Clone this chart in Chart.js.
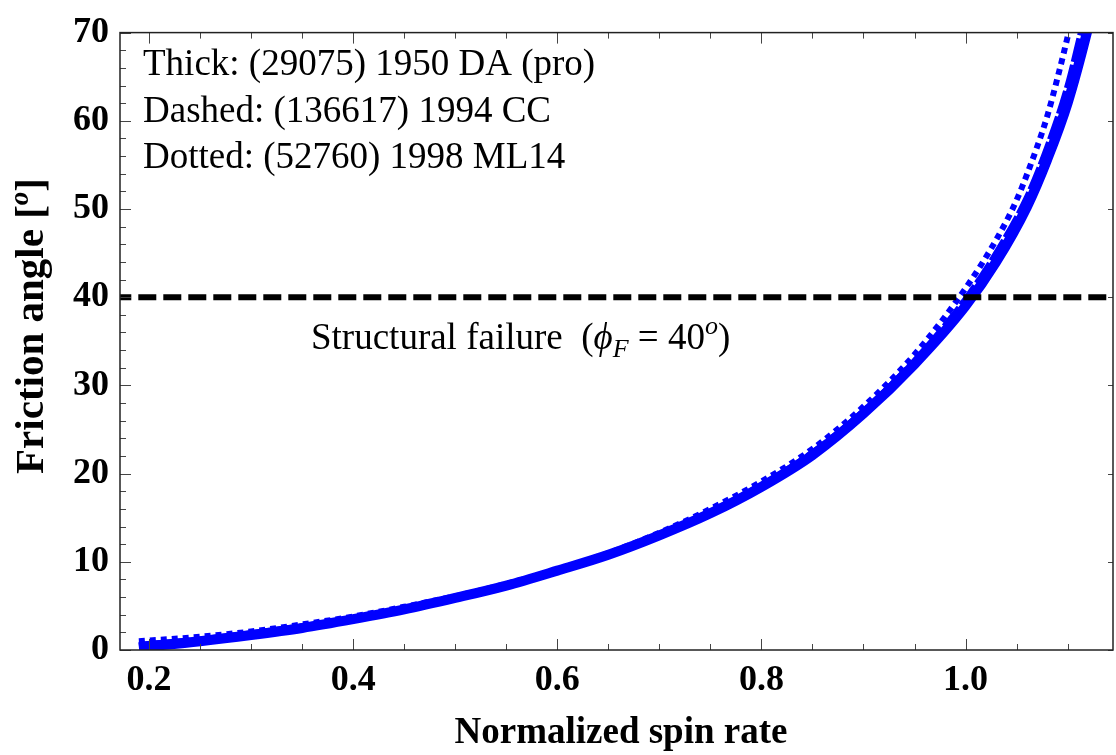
<!DOCTYPE html>
<html>
<head>
<meta charset="utf-8">
<script src="https://cdn.jsdelivr.net/npm/chart.js@4.4.0/dist/chart.umd.min.js"></script>
<style>
  html, body { margin: 0; padding: 0; background: #fff; }
  canvas { display: block; }
</style>
</head>
<body>
<canvas id="spinChart" width="1116" height="755"></canvas>
<script>
// axis ranges and ticks
var xMin = 0.1715, xMax = 1.1445;
var yMin = 0, yMax = 70;
var xTickValues = [0.2, 0.4, 0.6, 0.8, 1.0];
var xMinorStep = 0.05;
var yTickValues = [0, 10, 20, 30, 40, 50, 60, 70];
var yMinorStep = 2;

// thick: (29075) 1950 DA (pro)
var thickX = [0.19, 0.25, 0.3, 0.35, 0.4, 0.45, 0.5, 0.55, 0.6, 0.65, 0.7, 0.75, 0.8, 0.85, 0.9, 0.95, 1.0, 1.03, 1.06, 1.08, 1.1, 1.12, 1.125];
var thickY = [0.3, 1.0, 1.7, 2.5, 3.5, 4.6, 5.9, 7.3, 9.0, 10.8, 13.0, 15.5, 18.5, 22.1, 26.8, 32.4, 39.0, 44.0, 50.2, 55.6, 62.0, 70.5, 73.0];

// dashed: (136617) 1994 CC
var dashedX = [0.19, 0.25, 0.3, 0.35, 0.4, 0.45, 0.5, 0.55, 0.6, 0.65, 0.7, 0.75, 0.8, 0.85, 0.9, 0.95, 1.0, 1.03, 1.06, 1.08, 1.1, 1.115];
var dashedY = [0.6, 1.2, 1.9, 2.7, 3.6, 4.7, 6.0, 7.4, 9.0, 10.9, 13.1, 15.7, 18.7, 22.4, 27.1, 32.8, 39.8, 45.0, 51.3, 57.0, 64.0, 71.0];

// dotted: (52760) 1998 ML14
var dottedX = [0.19, 0.25, 0.3, 0.35, 0.4, 0.45, 0.5, 0.55, 0.6, 0.65, 0.7, 0.75, 0.8, 0.85, 0.9, 0.95, 1.0, 1.03, 1.05, 1.07, 1.08, 1.09, 1.1, 1.105];
var dottedY = [1.0, 1.5, 2.1, 2.9, 3.8, 4.9, 6.1, 7.5, 9.1, 11.0, 13.3, 16.0, 19.1, 22.8, 27.6, 33.5, 41.0, 46.5, 51.0, 57.0, 60.5, 64.8, 69.5, 72.0];

// structural failure level
var failureAngle = 40;

var legendLines = ["Thick: (29075) 1950 DA (pro)", "Dashed: (136617) 1994 CC", "Dotted: (52760) 1998 ML14"];

function toPoints(xs, ys) {
  return xs.map(function(x, i) { return { x: x, y: ys[i] }; });
}

var serif = "'Liberation Serif', 'Times New Roman', serif";
var blue = "#0000ff";

var framePlugin = {
  id: "framePlugin",
  afterDraw: function(chart) {
    var ctx = chart.ctx;
    var a = chart.chartArea;
    var xs = chart.scales.x, ys = chart.scales.y;
    ctx.save();

    // ticks, pointing inwards
    ctx.strokeStyle = "#444";
    ctx.lineWidth = 1;
    ctx.beginPath();
    var v, px, major;
    for (var k = Math.ceil(xMin / xMinorStep); k * xMinorStep <= xMax; k++) {
      v = k * xMinorStep;
      px = Math.round(xs.getPixelForValue(v)) + 0.5;
      major = xTickValues.some(function(t) { return Math.abs(t - v) < 1e-6; });
      var len = major ? 11 : 6;
      ctx.moveTo(px, a.bottom); ctx.lineTo(px, a.bottom - len);
      ctx.moveTo(px, a.top); ctx.lineTo(px, a.top + len);
    }
    for (var j = 0; j * yMinorStep <= yMax; j++) {
      v = j * yMinorStep;
      var py = Math.round(ys.getPixelForValue(v)) + 0.5;
      major = yTickValues.indexOf(v) >= 0;
      ctx.moveTo(a.left, py); ctx.lineTo(a.left + (major ? 11 : 6), py);
      if (major) { ctx.moveTo(a.right, py); ctx.lineTo(a.right - 5, py); }
    }
    ctx.stroke();

    // frame
    ctx.strokeStyle = "#222";
    ctx.lineWidth = 1.5;
    ctx.strokeRect(a.left, a.top, a.right - a.left, a.bottom - a.top);

    // legend text
    ctx.fillStyle = "#000";
    ctx.textBaseline = "alphabetic";
    ctx.textAlign = "left";
    ctx.font = "37px " + serif;
    legendLines.forEach(function(line, i) {
      ctx.fillText(line, 143, 75 + i * 46.5);
    });

    // failure label
    var fy = ys.getPixelForValue(failureAngle) + 52;
    var fx = 311;
    var parts = [
      { t: "Structural failure  (", f: "37px " + serif, dy: 0 },
      { t: "\u03d5", f: "italic 37px " + serif, dy: 0 },
      { t: "F", f: "italic 26px " + serif, dy: 8 },
      { t: " = 40", f: "37px " + serif, dy: 0 },
      { t: "o", f: "italic 26px " + serif, dy: -15 },
      { t: ")", f: "37px " + serif, dy: 0 }
    ];
    parts.forEach(function(p) {
      ctx.font = p.f;
      ctx.fillText(p.t, fx, fy + p.dy);
      fx += ctx.measureText(p.t).width;
    });

    // x axis title
    ctx.font = "bold 37px " + serif;
    ctx.textAlign = "center";
    ctx.fillText("Normalized spin rate", 621, 743);

    // y axis title
    ctx.translate(43, 326);
    ctx.rotate(-Math.PI / 2);
    ctx.textAlign = "left";
    var yParts = [
      { t: "Friction angle [", f: "bold 41px " + serif, dy: 0 },
      { t: "o", f: "bold italic 27px " + serif, dy: -15 },
      { t: "]", f: "bold 41px " + serif, dy: 0 }
    ];
    var total = 0;
    yParts.forEach(function(p) { ctx.font = p.f; total += ctx.measureText(p.t).width; });
    var tx = -total / 2;
    yParts.forEach(function(p) {
      ctx.font = p.f;
      ctx.fillText(p.t, tx, p.dy);
      tx += ctx.measureText(p.t).width;
    });
    ctx.restore();
  }
};

var ctxEl = document.getElementById("spinChart");
var spinChart = new Chart(ctxEl, {
  type: "line",
  data: {
    datasets: [{
      label: "Structural failure",
      data: [{ x: xMin, y: failureAngle }, { x: xMax, y: failureAngle }],
      borderColor: "#000",
      borderWidth: 6,
      borderDash: [18, 7],
      borderDashOffset: 6.7,
      borderCapStyle: "butt",
      pointRadius: 0,
      clip: 0
    }, {
      label: "Dotted: (52760) 1998 ML14",
      data: toPoints(dottedX, dottedY),
      borderColor: blue,
      borderWidth: 6,
      borderDash: [6, 5],
      borderCapStyle: "butt",
      cubicInterpolationMode: "monotone",
      pointRadius: 0,
      clip: 0
    }, {
      label: "Dashed: (136617) 1994 CC",
      data: toPoints(dashedX, dashedY),
      borderColor: blue,
      borderWidth: 6,
      borderDash: [24, 3],
      borderCapStyle: "butt",
      cubicInterpolationMode: "monotone",
      pointRadius: 0,
      clip: 0
    }, {
      label: "Thick: (29075) 1950 DA (pro)",
      data: toPoints(thickX, thickY),
      borderColor: blue,
      borderWidth: 10,
      borderCapStyle: "butt",
      cubicInterpolationMode: "monotone",
      pointRadius: 0,
      clip: 0
    }]
  },
  options: {
    responsive: false,
    animation: false,
    devicePixelRatio: 1,
    layout: { padding: { top: 29, right: 3, left: 0, bottom: 0 } },
    plugins: {
      legend: { display: false },
      tooltip: { enabled: false }
    },
    scales: {
      x: {
        type: "linear",
        min: xMin,
        max: xMax,
        grid: { display: false, drawTicks: false },
        border: { display: false },
        afterBuildTicks: function(scale) {
          scale.ticks = xTickValues.map(function(v) { return { value: v }; });
        },
        afterFit: function(scale) { scale.height = 105; },
        ticks: {
          color: "#000",
          padding: 9,
          maxRotation: 0,
          font: { family: serif, size: 36, weight: "bold" },
          callback: function(v) { return v.toFixed(1); }
        }
      },
      y: {
        type: "linear",
        min: yMin,
        max: yMax,
        grid: { display: false, drawTicks: false },
        border: { display: false },
        afterBuildTicks: function(scale) {
          scale.ticks = yTickValues.map(function(v) { return { value: v }; });
        },
        afterFit: function(scale) { scale.width = 120; },
        ticks: {
          color: "#000",
          padding: 11,
          font: { family: serif, size: 36, weight: "bold" }
        }
      }
    }
  },
  plugins: [framePlugin]
});
</script>
</body>
</html>
